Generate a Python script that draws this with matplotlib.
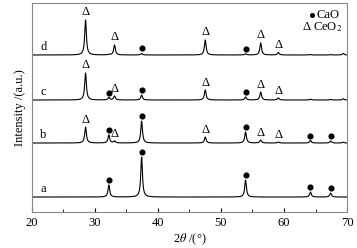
import numpy as np
import matplotlib.pyplot as plt

plt.rcParams['font.family'] = ['Liberation Serif', 'DejaVu Serif']
plt.rcParams['mathtext.fontset'] = 'stix'

# peak positions (2theta) and heights for each sample, baseline offsets
samples = ["a", "b", "c", "d"]
offsets = [15, 69, 112, 157]
cao_pos = [32.2, 37.4, 53.9, 64.2, 67.4]
ceo2_pos = [28.5, 33.1, 47.5, 56.3, 59.1, 69.4]
cao_h = {"a": [12, 40, 17, 5, 4],
         "b": [8, 22, 11, 2.5, 2],
         "c": [2.5, 5, 3, 0.8, 0.6],
         "d": [0.5, 1.5, 1.2, 0.5, 0.4]}
ceo2_h = {"a": [0, 0, 0, 0, 0, 0],
          "b": [16, 2, 6, 3, 1, 0.8],
          "c": [27, 4, 10, 8, 2, 1.2],
          "d": [35, 10, 15, 12, 2.5, 1.5]}
# which peaks get a marker
cao_mark = {"a": [0, 1, 2, 3, 4], "b": [0, 1, 2, 3, 4], "c": [0, 1, 2], "d": [1, 2]}
ceo2_mark = {"a": [], "b": [0, 1, 2, 3, 4], "c": [0, 1, 2, 3, 4], "d": [0, 1, 2, 3, 4]}

x = np.linspace(20, 70, 2500)


def lor(x0, h, w=0.16):
    return h * w**2 / ((x - x0)**2 + w**2)


fig = plt.figure(figsize=(3.57, 2.48), dpi=100)
ax = fig.add_axes([0.0896, 0.145, 0.8824, 0.843])

for s, off in zip(samples, offsets):
    y = np.full_like(x, off, dtype=float)
    for p, h in zip(cao_pos, cao_h[s]):
        y += lor(p, h)
    for p, h in zip(ceo2_pos, ceo2_h[s]):
        y += lor(p, h)
    ax.plot(x, y, color='black', lw=0.8)
    ax.text(21.3, off + 2, s, fontsize=9, ha='left', va='bottom')
    for i in cao_mark[s]:
        ax.plot(cao_pos[i], off + cao_h[s][i] + 5, 'o', color='black', ms=3.4)
    for i in ceo2_mark[s]:
        ax.text(ceo2_pos[i], off + ceo2_h[s][i] + 1.5, "Δ", fontsize=9,
                ha='center', va='bottom')

# legend
ax.plot(64.4, 197, 'o', color='black', ms=2.6)
ax.text(65.1, 197, "CaO", fontsize=9, va='center', ha='left')
ax.text(63.6, 185, "Δ", fontsize=9, va='center', ha='center')
ax.text(64.6, 185, "CeO$_2$", fontsize=9, va='center', ha='left')

ax.set_xlim(20, 70)
ax.set_ylim(0, 209)
ax.set_xticks([20, 30, 40, 50, 60, 70])
ax.set_xticks([25, 35, 45, 55, 65], minor=True)
ax.tick_params(axis='x', which='both', direction='in', labelsize=9, length=3)
ax.tick_params(axis='x', which='minor', length=2)
ax.set_yticks([])
for sp in ax.spines.values():
    sp.set_color('#888888')
    sp.set_linewidth(0.8)
ax.set_xlabel(r"2$\theta$ /(°)", fontsize=9, labelpad=2)
ax.set_ylabel("Intensity /(a.u.)", fontsize=9, labelpad=4)

fig.savefig("out.png", dpi=100)
